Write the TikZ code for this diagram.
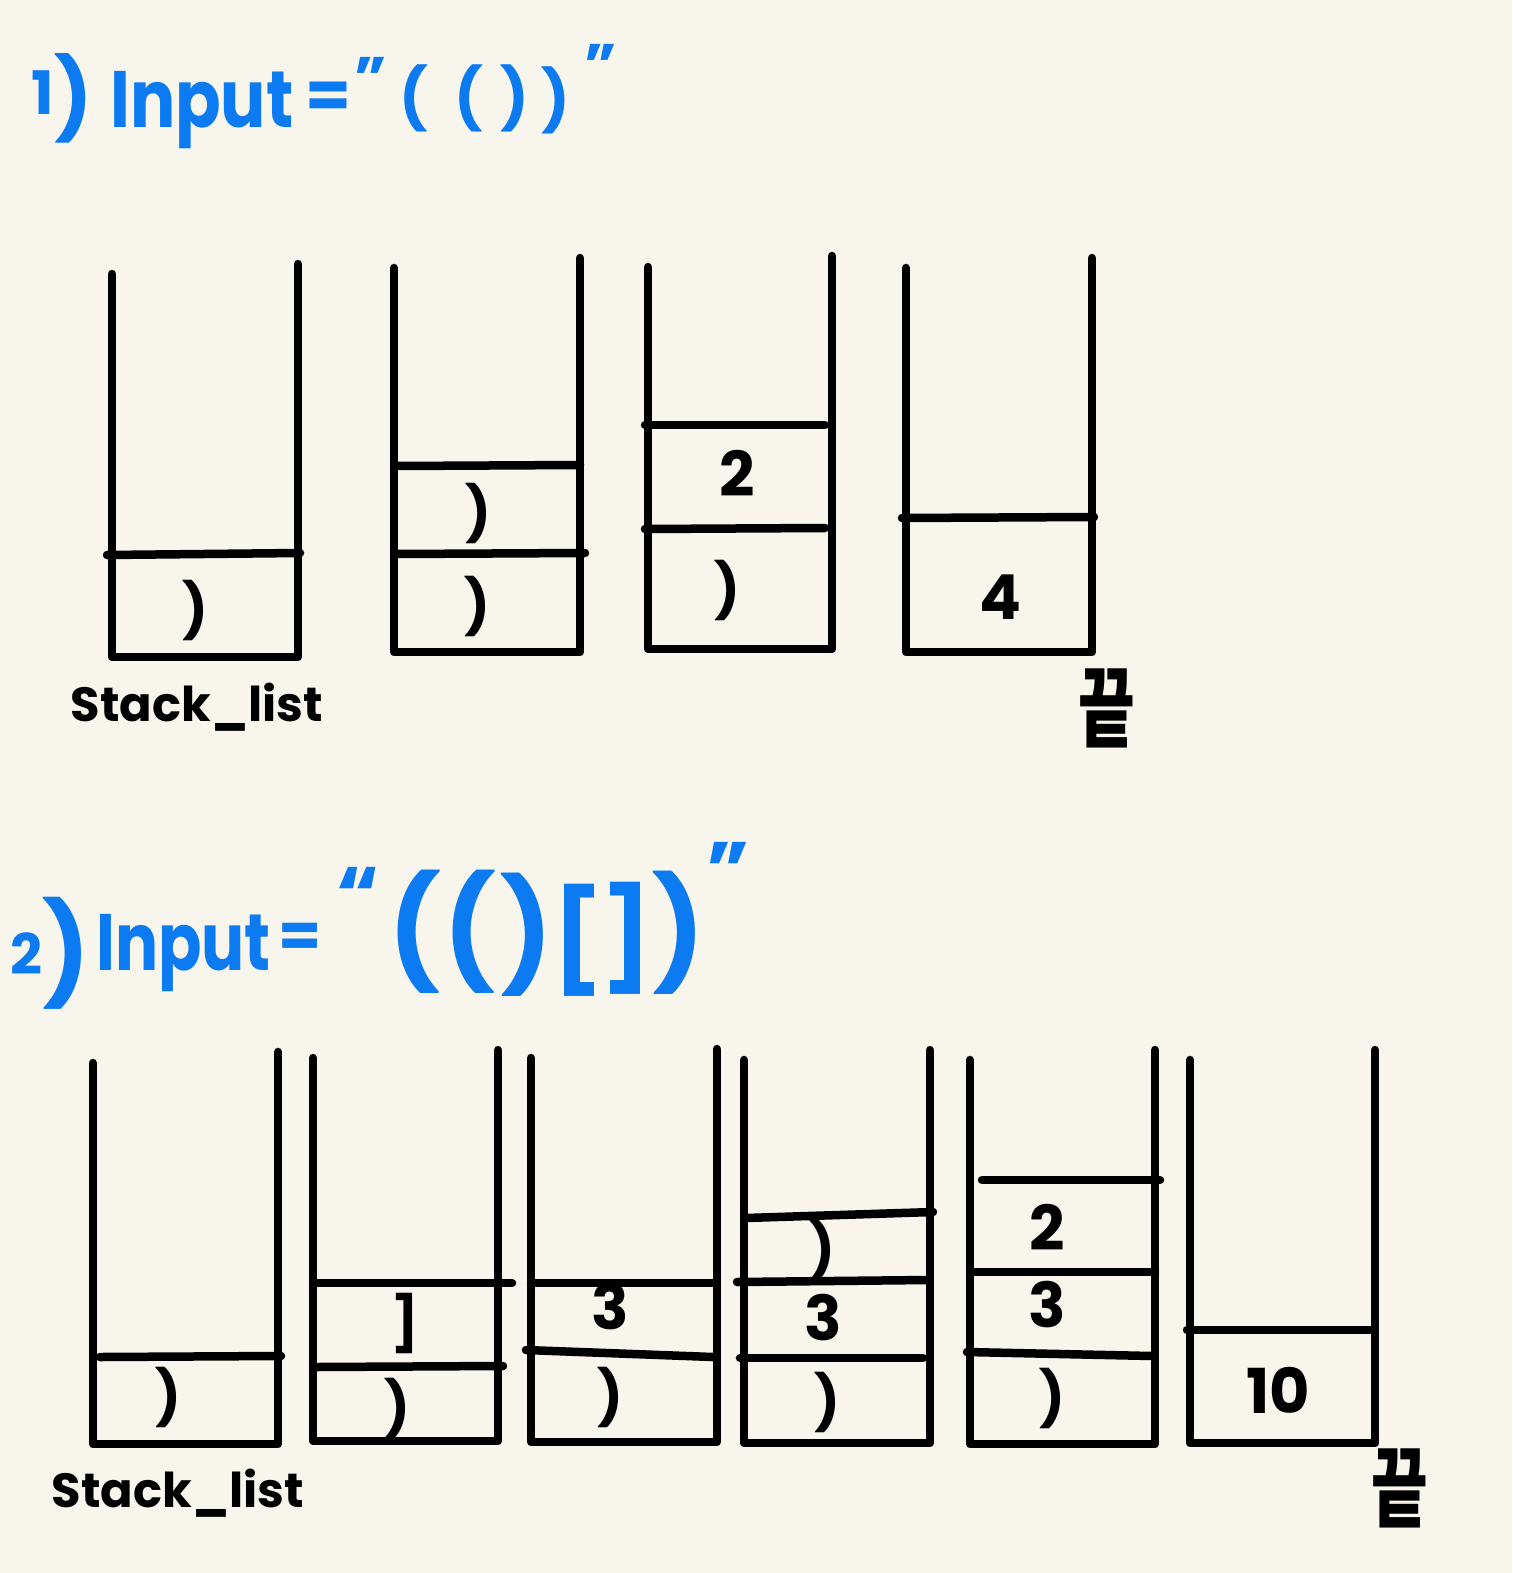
\documentclass[tikz,border=0pt]{standalone}
\usepackage{fontspec}
\setmainfont{Poppins}
\newfontfamily\kofont{Noto Sans CJK KR}
\definecolor{bgc}{RGB}{248,246,236}
\definecolor{pen}{RGB}{12,122,240}
\newcommand{\fsz}[1]{\fontsize{#1}{#1}\selectfont}
\begin{document}
\begin{tikzpicture}[x=1pt,y=-1pt,line width=8.5pt,line cap=round,line join=round,
  ttl/.style={text=pen,inner sep=0pt,font=\bfseries\fsz{80}},
  brk/.style={text=pen,inner sep=0pt,font=\bfseries\fsz{60}},
  bigbrk/.style={text=pen,inner sep=0pt,font=\bfseries\fsz{110}},
  cell/.style={inner sep=0pt,font=\bfseries\fsz{62}},
  pcell/.style={inner sep=0pt,font=\bfseries\fsz{54}},
  lbl/.style={inner sep=0pt,font=\bfseries\fsz{48}},
  endmark/.style={inner sep=0pt,font=\kofont\bfseries\fsz{88}}]
\fill[bgc] (0,0) rectangle (1512,1573);
\useasboundingbox (0,0) rectangle (1512,1573);

% ---------- title 1
\node[ttl] (t1n) at (62,98) {\raisebox{12pt}{\fsz{60}1}{\fsz{80})}};
\node[ttl,anchor=base west] (t1i) at (106,128) {\scalebox{0.84}[1]{Input}};
\node[ttl,font=\bfseries\fsz{66}] (t1e) at (328,100) {=};
\node[ttl,font=\bfseries\fsz{60}] (t1q) at (371,78) {"};
\node[brk] (t1a) at (414,98) {(};
\node[brk] (t1b) at (469,98) {(};
\node[brk] (t1c) at (515,98) {)};
\node[brk] (t1d) at (556,100) {)};
\node[ttl,font=\bfseries\fsz{60}] (t1r) at (601,65) {”};

% ---------- part 1 stacks
\draw (112,274) -- (112,657) -- (298,657) -- (298,264);
\draw (107,555) -- (300,553);
\node[pcell] (a1) at (195,610) {)};

\draw (394,268) -- (394,652) -- (580,652) -- (580,258);
\draw (397,466) -- (580,465);
\draw (397,554) -- (585,553);
\node[pcell] (b2) at (478,513) {)};
\node[pcell] (b1) at (477,606) {)};

\draw (648,267) -- (648,649) -- (832,649) -- (832,256);
\draw (645,425) -- (825,425);
\draw (645,529) -- (825,528);
\node[cell] (c2) at (737,473) {2};
\node[pcell] (c1) at (727,590) {)};

\draw (906,268) -- (906,652) -- (1092,652) -- (1092,258);
\draw (902,518) -- (1094,517);
\node[cell] (d1) at (1000,597) {4};

\node[lbl] (s1) at (197,707) {Stack\_list};
\node[endmark] (e1) at (1107,708) {\scalebox{0.7}[1]{끝}};

% ---------- title 2
\node[ttl] (t2n) at (50,953) {\raisebox{14pt}{\fsz{56}2}{\fsz{100})}};
\node[ttl,anchor=base west] (t2i) at (92,970) {\scalebox{0.8}[1]{Input}};
\node[ttl,font=\bfseries\fsz{62}] (t2e) at (300,940) {=};
\node[ttl,font=\bfseries\fsz{80}] (t2q) at (358,895) {“};
\node[bigbrk] (t2a) at (415,932) {(};
\node[bigbrk] (t2b) at (470,932) {(};
\node[bigbrk] (t2c) at (527,935) {)};
\node[bigbrk,font=\bfseries\fsz{100}] (t2d) at (578,940) {[};
\node[bigbrk,font=\bfseries\fsz{100}] (t2e2) at (627,938) {]};
\node[bigbrk] (t2f) at (679,933) {)};
\node[ttl,font=\bfseries\fsz{80}] (t2r) at (728,870) {”};

% ---------- part 2 stacks
\draw (93,1063) -- (93,1444) -- (278,1444) -- (278,1052);
\draw (100,1357) -- (281,1356);
\node[pcell] (p1a) at (168,1397) {)};

\draw (313,1058) -- (313,1441) -- (498,1441) -- (498,1050);
\draw (316,1283) -- (512,1283);
\draw (316,1367) -- (503,1366);
\node[pcell] (p2b) at (405,1323) {]};
\node[pcell] (p2a) at (397,1408) {)};

\draw (531,1058) -- (531,1442) -- (717,1442) -- (717,1049);
\draw (531,1283) -- (713,1283);
\draw (526,1350) -- (713,1357);
\node[cell] (p3b) at (610,1307) {3};
\node[pcell] (p3a) at (610,1397) {)};

\draw (744,1060) -- (744,1443) -- (930,1443) -- (930,1050);
\draw (746,1218) -- (933,1212);
\draw (737,1282) -- (928,1280);
\draw (740,1358) -- (923,1358);
\node[pcell] (p4c) at (822,1250) {)};
\node[cell] (p4b) at (823,1318) {3};
\node[pcell] (p4a) at (827,1402) {)};

\draw (970,1060) -- (970,1444) -- (1155,1444) -- (1155,1050);
\draw (982,1180) -- (1160,1180);
\draw (975,1272) -- (1155,1272);
\draw (967,1352) -- (1152,1356);
\node[cell] (p5c) at (1047,1227) {2};
\node[cell] (p5b) at (1047,1305) {3};
\node[pcell] (p5a) at (1052,1398) {)};

\draw (1190,1060) -- (1190,1443) -- (1375,1443) -- (1375,1050);
\draw (1187,1330) -- (1370,1330);
\node[cell] (p6a) at (1278,1390) {10};

\node[lbl] (s2) at (178,1493) {Stack\_list};
\node[endmark] (e2) at (1400,1488) {\scalebox{0.7}[1]{끝}};
\end{tikzpicture}
\end{document}
